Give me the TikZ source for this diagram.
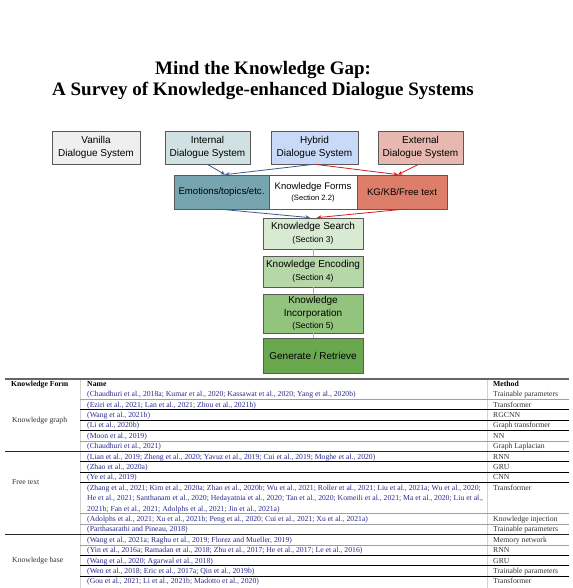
\documentclass[tikz,border=0pt]{standalone}
\usepackage{fontspec}
\setmainfont{Liberation Serif}
\newfontfamily\arial{Liberation Sans}
\usetikzlibrary{arrows.meta}
\definecolor{vanillac}{HTML}{EFEFEF}
\definecolor{internalc}{HTML}{D0E0E3}
\definecolor{hybridc}{HTML}{C9DAF8}
\definecolor{externalc}{HTML}{E6B8AF}
\definecolor{emoc}{HTML}{76A5AF}
\definecolor{kgc}{HTML}{DD7E6B}
\definecolor{g1}{HTML}{D9EAD3}
\definecolor{g2}{HTML}{B6D7A8}
\definecolor{g3}{HTML}{93C47D}
\definecolor{g4}{HTML}{6AA84F}
\definecolor{boxline}{HTML}{595959}
\definecolor{arrblue}{HTML}{3A5A94}
\definecolor{arrred}{HTML}{CC1F1F}
\definecolor{citeblue}{HTML}{2B2B8F}
\definecolor{methgray}{HTML}{333333}
\tikzset{
  dbox/.style={draw=boxline, line width=0.7pt, inner sep=0pt, align=center,
    font=\arial\fontsize{10}{12.5}\selectfont},
  bluearr/.style={draw=arrblue, line width=0.8pt, -{Stealth[length=4.5pt,width=4pt]}},
  redarr/.style={draw=arrred, line width=0.8pt, -{Stealth[length=4.5pt,width=4pt]}},
  stepline/.style={draw=gray!60, line width=0.6pt},
  hdr/.style={anchor=base west, inner sep=0pt, font=\bfseries\fontsize{7.7}{9}\selectfont},
  cite/.style={anchor=base west, inner sep=0pt, text=citeblue, font=\fontsize{7.7}{9}\selectfont},
  meth/.style={anchor=base west, inner sep=0pt, text=methgray, font=\fontsize{7.7}{9}\selectfont},
  grp/.style={anchor=west, inner sep=0pt, text=methgray, font=\fontsize{7.7}{9}\selectfont},
  rg/.style={draw=gray!75, line width=0.6pt},
  rb/.style={draw=black, line width=0.8pt},
  vl/.style={draw=gray!35, line width=0.6pt}
}
\begin{document}
\begin{tikzpicture}[x=1pt,y=-1pt]
\useasboundingbox (0,0) rectangle (572,588);
\fill[white] (0,0) rectangle (572,588);

% title
\node[anchor=base, inner sep=0pt, font=\bfseries\fontsize{19}{21}\selectfont] (title1) at (263,75) {Mind the Knowledge Gap:};
\node[anchor=base, inner sep=0pt, font=\bfseries\fontsize{19}{21}\selectfont] (title2) at (263,96) {A Survey of Knowledge-enhanced Dialogue Systems};

% top boxes
\node[dbox, fill=vanillac, minimum width=88, minimum height=33] (vanilla) at (96,147.5) {Vanilla\\Dialogue System};
\node[dbox, fill=internalc, minimum width=85, minimum height=33] (internal) at (207.5,147.5) {Internal\\Dialogue System};
\node[dbox, fill=hybridc, minimum width=87, minimum height=33] (hybrid) at (314.5,147.5) {Hybrid\\Dialogue System};
\node[dbox, fill=externalc, minimum width=85, minimum height=33] (external) at (420.5,147.5) {External\\Dialogue System};

% middle row
\node[dbox, fill=emoc, minimum width=95, minimum height=34, font=\arial\fontsize{9.6}{12}\selectfont] (emo) at (221.5,192) {Emotions/topics/etc.};
\node[dbox, fill=white, minimum width=88, minimum height=34, font=\arial\fontsize{9.5}{10.5}\selectfont] (forms) at (313,192.5) {Knowledge Forms\\{\fontsize{7.6}{9}\selectfont (Section 2.2)}};
\node[dbox, fill=kgc, minimum width=90, minimum height=34, font=\arial\fontsize{9.6}{12}\selectfont] (kg) at (402,192) {KG/KB/Free text};

% green pipeline
\node[dbox, fill=g1, minimum width=100, minimum height=31, font=\arial\fontsize{10}{12.5}\selectfont] (search) at (313,233.5) {Knowledge Search\\{\fontsize{8.5}{10}\selectfont (Section 3)}};
\node[dbox, fill=g2, minimum width=100, minimum height=31, font=\arial\fontsize{10}{12.5}\selectfont] (encoding) at (313,271.5) {Knowledge Encoding\\{\fontsize{8.5}{10}\selectfont (Section 4)}};
\node[dbox, fill=g3, minimum width=100, minimum height=39, font=\arial\fontsize{10}{12.5}\selectfont] (incorp) at (313,313.5) {Knowledge\\Incorporation\\{\fontsize{8.5}{10}\selectfont (Section 5)}};
\node[dbox, fill=g4, minimum width=100, minimum height=35, font=\arial\fontsize{10}{12.5}\selectfont] (generate) at (313,355.5) {Generate / Retrieve};

\draw[stepline] (search.south) -- (encoding.north);
\draw[stepline] (encoding.south) -- (incorp.north);
\draw[stepline] (incorp.south) -- (generate.north);

% arrows
\coordinate (emoin) at ([xshift=3.5pt]emo.north);
\coordinate (kgin) at ([xshift=-4pt]kg.north);
\coordinate (searchb) at ([xshift=-3pt]search.north);
\coordinate (searchr) at ([xshift=4pt]search.north);
\draw[bluearr] (internal.south) -- (emoin);
\draw[bluearr] ([xshift=-1pt]hybrid.south) -- (emoin);
\draw[redarr] ([xshift=1pt]hybrid.south) -- (kgin);
\draw[redarr] ([xshift=-2pt]external.south) -- (kgin);
\draw[bluearr] (emo.south) -- (searchb);
\draw[redarr] (kg.south) -- (searchr);

% table rules
\draw[vl] (80,379) -- (80,588);
\draw[vl] (487,379) -- (487,588);
\draw[draw=gray!80!black, line width=1.4pt] (5,379) -- (569,379);
\draw[rg] (80,399.2) -- (569,399.2);
\draw[rb] (80,409.6) -- (569,409.6);
\draw[rb] (80,420.0) -- (569,420.0);
\draw[rb] (80,430.4) -- (569,430.4);
\draw[rg] (80,440.8) -- (569,440.8);
\draw[draw=black!85, line width=1pt] (5,451.2) -- (569,451.2);
\draw[rb] (80,461.6) -- (569,461.6);
\draw[rb] (80,472.0) -- (569,472.0);
\draw[rb] (80,482.4) -- (569,482.4);
\draw[rg] (80,513.6) -- (569,513.6);
\draw[rg] (80,524.0) -- (569,524.0);
\draw[draw=black!85, line width=1pt] (5,534.4) -- (569,534.4);
\draw[rg] (80,544.8) -- (569,544.8);
\draw[rb] (80,555.2) -- (569,555.2);
\draw[rb] (80,565.6) -- (569,565.6);
\draw[rb] (80,576.0) -- (569,576.0);

% header
\node[hdr] (hform) at (11,386.6) {Knowledge Form};
\node[hdr] (hname) at (87,386.6) {Name};
\node[hdr] (hmeth) at (493,386.6) {Method};

% group labels
\node[grp] (lkg) at (12,420.5) {Knowledge graph};
\node[grp] (lft) at (12,482.5) {Free text};
\node[grp] (lkb) at (12,560.7) {Knowledge base};

% rows
\node[cite] (n1) at (87,396.6) {(Chaudhuri et al., 2018a; Kumar et al., 2020; Kassawat et al., 2020; Yang et al., 2020b)};
\node[meth] (m1) at (493,396.6) {Trainable parameters};
\node[cite] (n2) at (87,407.0) {(Eziri et al., 2021; Lan et al., 2021; Zhou et al., 2021b)};
\node[meth] (m2) at (493,407.0) {Transformer};
\node[cite] (n3) at (87,417.4) {(Wang et al., 2021b)};
\node[meth] (m3) at (493,417.4) {RGCNN};
\node[cite] (n4) at (87,427.8) {(Li et al., 2020b)};
\node[meth] (m4) at (493,427.8) {Graph transformer};
\node[cite] (n5) at (87,438.2) {(Moon et al., 2019)};
\node[meth] (m5) at (493,438.2) {NN};
\node[cite] (n6) at (87,448.6) {(Chaudhuri et al., 2021)};
\node[meth] (m6) at (493,448.6) {Graph Laplacian};
\node[cite] (n7) at (87,459.0) {(Lian et al., 2019; Zheng et al., 2020; Yavuz et al., 2019; Cui et al., 2019; Moghe et al., 2020)};
\node[meth] (m7) at (493,459.0) {RNN};
\node[cite] (n8) at (87,469.4) {(Zhao et al., 2020a)};
\node[meth] (m8) at (493,469.4) {GRU};
\node[cite] (n9) at (87,479.8) {(Ye et al., 2019)};
\node[meth] (m9) at (493,479.8) {CNN};
\node[cite] (n10a) at (87,490.2) {(Zhang et al., 2021; Kim et al., 2020a; Zhao et al., 2020b; Wu et al., 2021; Roller et al., 2021; Liu et al., 2021a; Wu et al., 2020;};
\node[cite] (n10b) at (87,500.6) {He et al., 2021; Santhanam et al., 2020; Hedayatnia et al., 2020; Tan et al., 2020; Komeili et al., 2021; Ma et al., 2020; Liu et al.,};
\node[cite] (n10c) at (87,511.0) {2021b; Fan et al., 2021; Adolphs et al., 2021; Jin et al., 2021a)};
\node[meth] (m10) at (493,490.2) {Transformer};
\node[cite] (n11) at (87,521.4) {(Adolphs et al., 2021; Xu et al., 2021b; Peng et al., 2020; Cui et al., 2021; Xu et al., 2021a)};
\node[meth] (m11) at (493,521.4) {Knowledge injection};
\node[cite] (n12) at (87,531.8) {(Parthasarathi and Pineau, 2018)};
\node[meth] (m12) at (493,531.8) {Trainable parameters};
\node[cite] (n13) at (87,542.2) {(Wang et al., 2021a; Raghu et al., 2019; Florez and Mueller, 2019)};
\node[meth] (m13) at (493,542.2) {Memory network};
\node[cite] (n14) at (87,552.6) {(Yin et al., 2016a; Ramadan et al., 2018; Zhu et al., 2017; He et al., 2017; Le et al., 2016)};
\node[meth] (m14) at (493,552.6) {RNN};
\node[cite] (n15) at (87,563.0) {(Wang et al., 2020; Agarwal et al., 2018)};
\node[meth] (m15) at (493,563.0) {GRU};
\node[cite] (n16) at (87,573.4) {(Wen et al., 2018; Eric et al., 2017a; Qin et al., 2019b)};
\node[meth] (m16) at (493,573.4) {Trainable parameters};
\node[cite] (n17) at (87,583.8) {(Gou et al., 2021; Li et al., 2021b; Madotto et al., 2020)};
\node[meth] (m17) at (493,583.8) {Transformer};
\end{tikzpicture}
\end{document}
